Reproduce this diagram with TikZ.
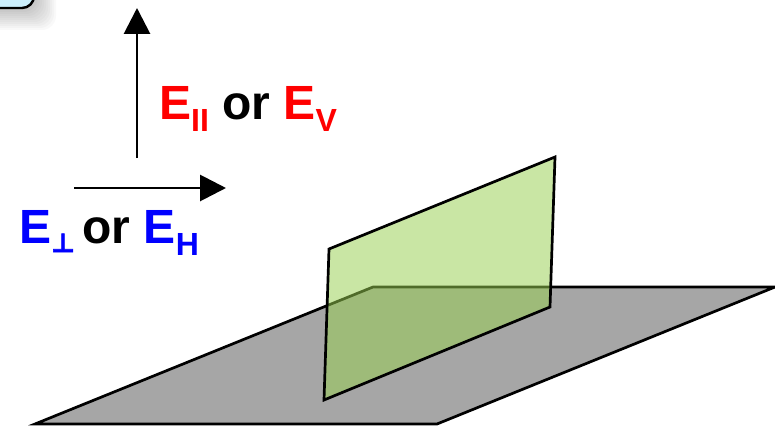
\documentclass[tikz,border=0pt]{standalone}
\usepackage{fontspec}
\setmainfont{Liberation Sans}
\newfontfamily\symfont[FakeBold=2]{DejaVu Sans Bold}
\usetikzlibrary{arrows.meta}
\tikzset{
  lbl/.style={anchor=base west,inner sep=0pt,font=\fontsize{48}{48}\selectfont\bfseries},
  axis/.style={line width=2.9pt,-{Triangle[length=26pt,width=26pt]}},
  edge/.style={line width=2.7pt,line join=miter},
}
\newcommand{\subtxt}[1]{\raisebox{-12pt}{\fontsize{32}{32}\selectfont #1}}
\newcommand{\perpsub}{\makebox[18pt][l]{\raisebox{-9pt}{\fontsize{26}{26}\selectfont\symfont\char"22A5}}}
\begin{document}
\begin{tikzpicture}[x=1pt,y=-1pt]
\useasboundingbox (0,0) rectangle (775,425);
\clip (0,0) rectangle (775,425);
% shadow of the cut-off box
\foreach \g in {20,18,...,0}{
  \fill[black,opacity=0.022,rounded corners=14pt] (-60,-60) rectangle (36+\g,10+\g);
}
\draw[line width=2.4pt,fill=cyan!20!white,rounded corners=12pt] (-60,-60) rectangle (34,8);
% ground plane
\draw[edge,fill=black!35] (373,287) -- (775,287) -- (437,424) -- (35,424) -- cycle;
% upright plane
\fill[fill={rgb,255:red,152;green,207;blue,80},opacity=0.52] (329,249) -- (555,157) -- (550,307) -- (324,400) -- cycle;
\draw[edge] (329,249) -- (555,157) -- (550,307) -- (324,400) -- cycle;
% axes
\coordinate (vs) at (137,158);
\coordinate (ve) at (137,8);
\coordinate (hs) at (74,188);
\coordinate (he) at (226,188);
\draw[axis] (vs) -- (ve);
\draw[axis] (hs) -- (he);
% labels
\node[lbl] (vlabel) at (159,119) {\textcolor{red}{E\subtxt{II}} or \textcolor{red}{E\subtxt{V}}};
\node[lbl] (hlabel) at (19,243) {\textcolor{blue}{E\perpsub} or \textcolor{blue}{E\subtxt{H}}};
\end{tikzpicture}
\end{document}
